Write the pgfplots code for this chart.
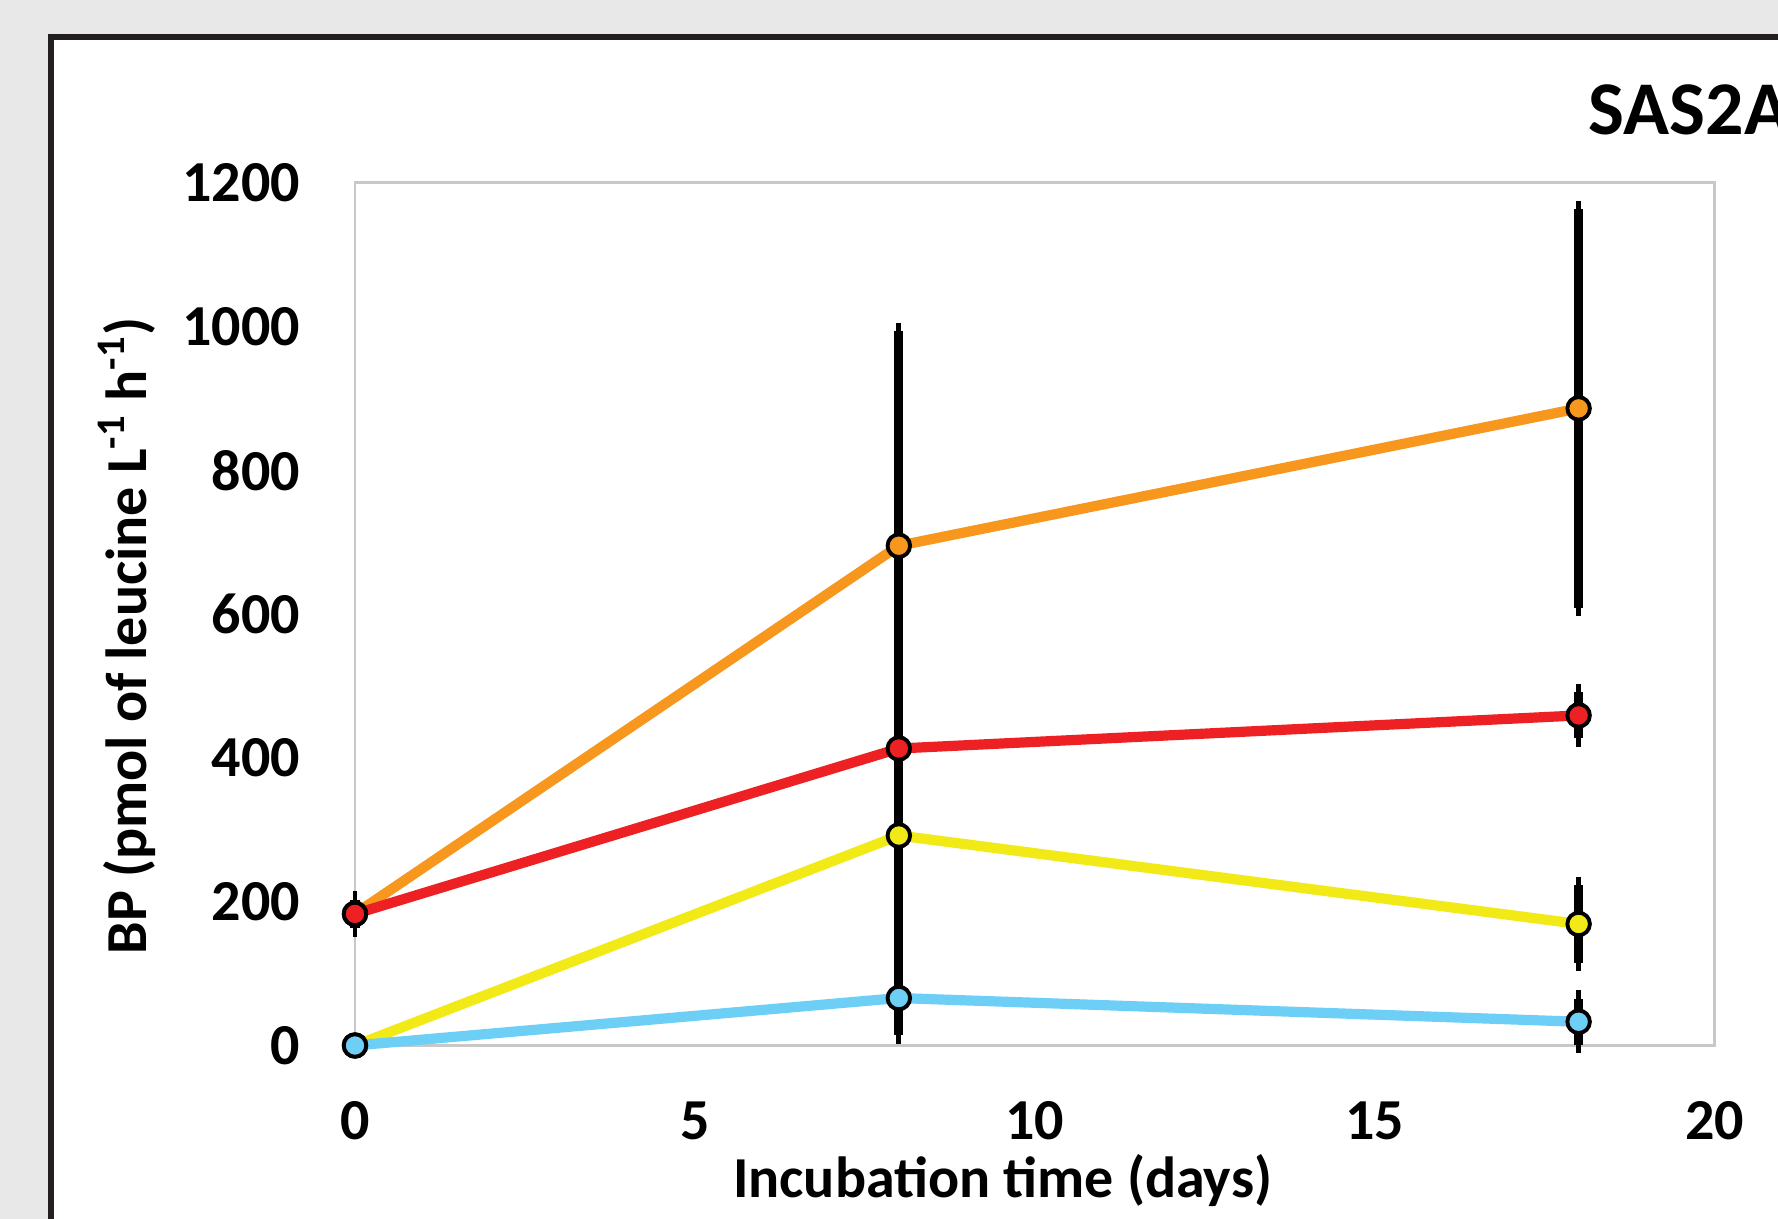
\documentclass[border=0pt]{standalone}
\usepackage{fontspec}
\setmainfont{Carlito}
\usepackage{pgfplots}
\usepackage{pgfplotstable}
\pgfplotsset{compat=1.18}
\definecolor{cOrange}{RGB}{247,151,29}
\definecolor{cRed}{RGB}{237,32,36}
\definecolor{cYellow}{RGB}{242,234,22}
\definecolor{cBlue}{RGB}{109,207,246}
\definecolor{frameC}{RGB}{35,31,32}
\definecolor{bgC}{RGB}{232,232,232}
\definecolor{plotborder}{RGB}{200,200,200}

\pgfplotstableread{
x y e
0 183 20
8 695 298
18 886 277
}\orangeT
\pgfplotstableread{
x y e
0 183 20
8 413 126
18 459 32
}\redT
\pgfplotstableread{
x y e
0 0 0
8 292 278
18 169 54
}\yellowT
\pgfplotstableread{
x y e
0 0 0
8 66 51
18 33 32
}\blueT

\pgfplotsset{
  ebar/.style={forget plot, no marks, draw=none,
    error bars/.cd, y dir=both, y explicit,
    error bar style={draw=black, line width=2.6pt},
    error mark=-,
    error mark options={draw=black, line width=1.4pt, mark size=2.4pt}},
  sline/.style={forget plot, no marks, line width=2.9pt, #1},
  smark/.style={forget plot, only marks, mark=*, mark size=3.2pt,
    mark options={fill=#1, draw=black, line width=1.1pt}},
}

\begin{document}
\begin{tikzpicture}
\useasboundingbox (-3.55,-1.735) rectangle (14.23,10.455);
\clip (-3.55,-1.735) rectangle (14.23,10.455);
\fill[bgC] (-3.55,-1.735) rectangle (14.23,10.455);
\draw[frameC, line width=1.5pt, fill=white] (-3.04,-3) rectangle (16,10.085);
\begin{axis}[
  at={(0,0)}, anchor=south west,
  scale only axis, width=13.596cm, height=8.629cm,
  xmin=0, xmax=20, ymin=0, ymax=1200,
  xtick={0,5,10,15,20}, ytick={0,200,...,1200},
  major tick length=0pt, minor tick num=0,
  axis line style={draw=plotborder, line width=0.7pt},
  clip=false,
  /pgf/number format/assume math mode=true,
  /pgf/number format/1000 sep={},
  tick label style={font=\bfseries\fontsize{16.5}{18}\selectfont},
  yticklabel style={anchor=east, inner sep=0pt, xshift=-0.545cm},
  xticklabel style={anchor=center, inner sep=0pt, yshift=-0.75cm},
  scaled ticks=false,
]
\addplot[ebar] table[x=x,y=y,y error=e] {\orangeT};
\addplot[ebar] table[x=x,y=y,y error=e] {\redT};
\addplot[ebar] table[x=x,y=y,y error=e] {\yellowT};
\addplot[ebar] table[x=x,y=y,y error=e] {\blueT};
\addplot[sline=cOrange] table[x=x,y=y] {\orangeT};
\addplot[sline=cRed] table[x=x,y=y] {\redT};
\addplot[sline=cYellow] table[x=x,y=y] {\yellowT};
\addplot[sline=cBlue] table[x=x,y=y] {\blueT};
\addplot[smark=cOrange] table[x=x,y=y] {\orangeT};
\addplot[smark=cRed] table[x=x,y=y] {\redT};
\addplot[smark=cYellow] table[x=x,y=y] {\yellowT};
\addplot[smark=cBlue] table[x=x,y=y] {\blueT};
\end{axis}
\node[font=\bfseries\fontsize{16.5}{18}\selectfont, inner sep=0pt] at (6.476,-1.35) {Incubation time (days)};
\node[font=\bfseries\fontsize{16.5}{18}\selectfont, inner sep=0pt, rotate=90] at (-2.28,4.095) {BP (pmol of leucine L\textsuperscript{-1} h\textsuperscript{-1})};
\node[font=\bfseries\fontsize{21.6}{24}\selectfont, inner sep=0pt, anchor=west] at (12.33,9.355) {SAS2A};
\end{tikzpicture}
\end{document}
